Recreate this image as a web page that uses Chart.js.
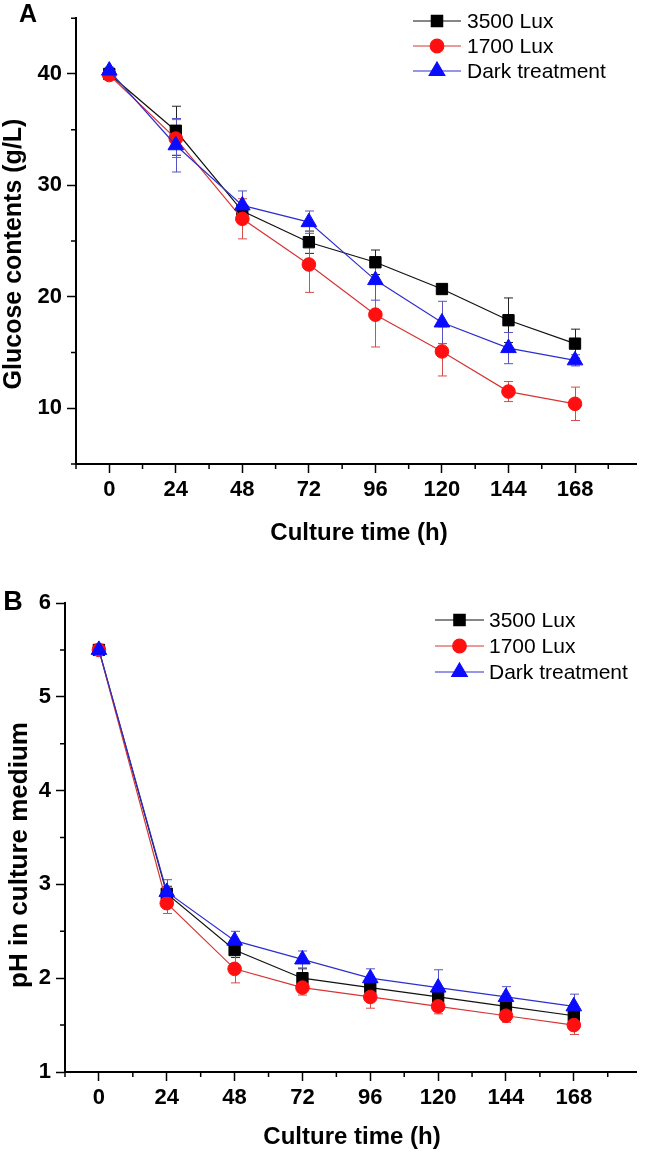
<!DOCTYPE html>
<html>
<head>
<meta charset="utf-8">
<script src="https://cdn.jsdelivr.net/npm/chart.js@4/dist/chart.umd.min.js"></script>
<style>
html, body { margin: 0; padding: 0; background: #fff; }
#wrap { position: relative; width: 646px; height: 1152px; }
canvas { position: absolute; left: 0; }
</style>
</head>
<body>
<div id="wrap">
  <canvas id="glucoseChart" width="646" height="560" style="top:0"></canvas>
  <canvas id="phChart" width="646" height="592" style="top:560px"></canvas>
</div>
<script>
const hours = [0, 24, 48, 72, 96, 120, 144, 168];
const seriesNames = ['3500 Lux', '1700 Lux', 'Dark treatment'];

// panel A - glucose (g/L), mean and error
const glucose3500 = [40.0, 34.9, 27.7, 24.9, 23.1, 20.7, 17.9, 15.8];
const glucose3500Err = [0.3, 2.2, 0.6, 1.0, 1.1, 0.4, 2.0, 1.3];
const glucose1700 = [39.9, 34.2, 27.0, 22.9, 18.4, 15.1, 11.5, 10.4];
const glucose1700Err = [0.3, 1.7, 1.8, 2.5, 2.9, 2.2, 0.9, 1.5];
const glucoseDark = [40.3, 33.6, 28.2, 26.7, 21.5, 17.7, 15.4, 14.3];
const glucoseDarkErr = [0.3, 2.4, 1.3, 1.0, 1.8, 1.9, 1.4, 0.5];

// panel B - pH
const ph3500 = [5.5, 2.9, 2.3, 2.0, 1.9, 1.8, 1.7, 1.6];
const ph3500Err = [0.05, 0.08, 0.08, 0.1, 0.06, 0.06, 0.05, 0.06];
const ph1700 = [5.5, 2.8, 2.1, 1.9, 1.8, 1.7, 1.6, 1.5];
const ph1700Err = [0.05, 0.11, 0.15, 0.08, 0.12, 0.08, 0.07, 0.1];
const phDark = [5.5, 2.92, 2.4, 2.2, 2.0, 1.9, 1.8, 1.7];
const phDarkErr = [0.05, 0.13, 0.1, 0.09, 0.1, 0.19, 0.11, 0.13];

// ticks
const xTickLabels = [0, 24, 48, 72, 96, 120, 144, 168];
const xMinorTicks = [-12, 12, 36, 60, 84, 108, 132, 156, 180];
const glucoseYLabels = [10, 20, 30, 40];
const glucoseYMinor = [5, 15, 25, 35, 45];
const phYLabels = [1, 2, 3, 4, 5, 6];
const phYMinor = [1.5, 2.5, 3.5, 4.5, 5.5];

const FONT = "'Liberation Sans', Arial, sans-serif";

const errorBarPlugin = {
    id: 'errorBars',
    beforeDatasetsDraw(chart) {
        const ctx = chart.ctx;
        const xs = chart.scales.x, ys = chart.scales.y;
        chart.data.datasets.forEach(ds => {
            ctx.save();
            ctx.strokeStyle = ds.errorColor;
            ctx.lineWidth = 1;
            ds.data.forEach((p, i) => {
                const e = ds.errors[i];
                const x = Math.round(xs.getPixelForValue(p.x)) + 0.5;
                const yt = ys.getPixelForValue(p.y + e);
                const yb = ys.getPixelForValue(p.y - e);
                ctx.beginPath();
                ctx.moveTo(x, yt); ctx.lineTo(x, yb);
                ctx.moveTo(x - 4.5, yt); ctx.lineTo(x + 4.5, yt);
                ctx.moveTo(x - 4.5, yb); ctx.lineTo(x + 4.5, yb);
                ctx.stroke();
            });
            ctx.restore();
        });
    }
};

const minorTickPlugin = {
    id: 'minorTicks',
    afterDraw(chart, args, opts) {
        const ctx = chart.ctx;
        const xs = chart.scales.x, ys = chart.scales.y;
        const area = chart.chartArea;
        ctx.save();
        ctx.strokeStyle = '#000';
        ctx.lineWidth = 1.5;
        ctx.beginPath();
        opts.x.forEach(v => {
            const x = xs.getPixelForValue(v);
            ctx.moveTo(x, area.bottom);
            ctx.lineTo(x, area.bottom + 5);
        });
        opts.y.forEach(v => {
            const y = ys.getPixelForValue(v);
            ctx.moveTo(area.left, y);
            ctx.lineTo(area.left - 5, y);
        });
        ctx.stroke();
        ctx.restore();
    }
};

const lineLegendPlugin = {
    id: 'lineLegend',
    afterDraw(chart, args, opts) {
        const ctx = chart.ctx;
        chart.data.datasets.forEach((ds, i) => {
            const y = opts.rows[i];
            ctx.save();
            ctx.strokeStyle = ds.borderColor;
            ctx.lineWidth = 1.2;
            ctx.beginPath();
            ctx.moveTo(opts.x0, y);
            ctx.lineTo(opts.x1, y);
            ctx.stroke();
            ctx.fillStyle = ds.pointBackgroundColor;
            ctx.strokeStyle = ds.pointBorderColor;
            Chart.helpers.drawPoint(ctx, {
                pointStyle: ds.pointStyle, radius: ds.pointRadius, borderWidth: 1, rotation: 0
            }, (opts.x0 + opts.x1) / 2, y);
            ctx.fillStyle = '#000';
            ctx.font = '21px ' + FONT;
            ctx.textBaseline = 'middle';
            ctx.textAlign = 'left';
            ctx.fillText(ds.label, opts.textX, y + 1);
            ctx.restore();
        });
    }
};

const panelTextPlugin = {
    id: 'panelText',
    afterDraw(chart, args, opts) {
        const ctx = chart.ctx;
        opts.items.forEach(t => {
            ctx.save();
            ctx.fillStyle = '#000';
            ctx.font = t.font;
            ctx.textAlign = 'center';
            ctx.textBaseline = 'middle';
            ctx.translate(t.x, t.y);
            if (t.rotate) ctx.rotate(-Math.PI / 2);
            ctx.fillText(t.text, 0, 0);
            ctx.restore();
        });
    }
};

function makeDatasets(vals, errs) {
    const styles = [
        { line: '#111111', fill: '#000000', err: '#222222', shape: 'rect', r: 8, order: 2 },
        { line: '#d83434', fill: '#ff0f0f', err: '#d44c4c', shape: 'circle', r: 6.8, order: 1 },
        { line: '#2e2ed0', fill: '#0b0bff', err: '#5454c4', shape: 'triangle', r: 9, order: 0 }
    ];
    return vals.map((v, k) => ({
        label: seriesNames[k],
        data: hours.map((h, i) => ({ x: h, y: v[i] })),
        errors: errs[k],
        errorColor: styles[k].err,
        borderColor: styles[k].line,
        borderWidth: 1.2,
        pointStyle: styles[k].shape,
        pointRadius: styles[k].r,
        pointHoverRadius: styles[k].r,
        pointBackgroundColor: styles[k].fill,
        pointBorderColor: styles[k].fill,
        pointBorderWidth: 1,
        tension: 0,
        order: styles[k].order
    }));
}

function makeScales(yMin, yMax, yLabels, yWidth, xHeight) {
    const tickFont = { family: FONT, size: 22, weight: 'bold' };
    const grid = { drawOnChartArea: false, drawTicks: true, tickLength: 9, tickWidth: 1.5, tickColor: '#000' };
    return {
        x: {
            type: 'linear', min: -12, max: 190,
            afterBuildTicks: s => { s.ticks = xTickLabels.map(v => ({ value: v })); },
            ticks: { font: tickFont, color: '#000', padding: 4, maxRotation: 0, autoSkip: false },
            grid: grid,
            border: { color: '#000', width: 2 },
            afterFit: s => { s.height = xHeight; }
        },
        y: {
            type: 'linear', min: yMin, max: yMax,
            afterBuildTicks: s => { s.ticks = yLabels.map(v => ({ value: v })); },
            ticks: { font: tickFont, color: '#000', padding: 5, autoSkip: false },
            grid: grid,
            border: { color: '#000', width: 2 },
            afterFit: s => { s.width = yWidth; }
        }
    };
}

const chartA = new Chart(document.getElementById('glucoseChart'), {
    type: 'line',
    data: {
        datasets: makeDatasets([glucose3500, glucose1700, glucoseDark],
            [glucose3500Err, glucose1700Err, glucoseDarkErr])
    },
    options: {
        responsive: false, animation: false, devicePixelRatio: 1,
        layout: { padding: { left: 0, right: 3, top: 5, bottom: 0 } },
        scales: makeScales(5, 45, glucoseYLabels, 76, 96),
        plugins: {
            legend: { display: false }, tooltip: { enabled: false },
            minorTicks: { x: xMinorTicks, y: glucoseYMinor },
            lineLegend: { x0: 413, x1: 461, textX: 467, rows: [21, 46, 71] },
            panelText: {
                items: [
                    { text: 'A', x: 28, y: 15, font: 'bold 25px ' + FONT },
                    { text: 'Glucose contents (g/L)', x: 14, y: 254, rotate: true, font: 'bold 25px ' + FONT },
                    { text: 'Culture time (h)', x: 359, y: 533, font: 'bold 24px ' + FONT }
                ]
            }
        }
    },
    plugins: [errorBarPlugin, minorTickPlugin, lineLegendPlugin, panelTextPlugin]
});

const chartB = new Chart(document.getElementById('phChart'), {
    type: 'line',
    data: {
        datasets: makeDatasets([ph3500, ph1700, phDark],
            [ph3500Err, ph1700Err, phDarkErr])
    },
    options: {
        responsive: false, animation: false, devicePixelRatio: 1,
        layout: { padding: { left: 0, right: 7, top: 43, bottom: 0 } },
        scales: makeScales(1, 6, phYLabels, 65, 80),
        plugins: {
            legend: { display: false }, tooltip: { enabled: false },
            minorTicks: { x: xMinorTicks, y: phYMinor },
            lineLegend: { x0: 435, x1: 484, textX: 489, rows: [60, 86, 112] },
            panelText: {
                items: [
                    { text: 'B', x: 13, y: 43, font: 'bold 27px ' + FONT },
                    { text: 'pH in culture medium', x: 20, y: 295, rotate: true, font: 'bold 26px ' + FONT },
                    { text: 'Culture time (h)', x: 352, y: 577, font: 'bold 24px ' + FONT }
                ]
            }
        }
    },
    plugins: [errorBarPlugin, minorTickPlugin, lineLegendPlugin, panelTextPlugin]
});
</script>
</body>
</html>
